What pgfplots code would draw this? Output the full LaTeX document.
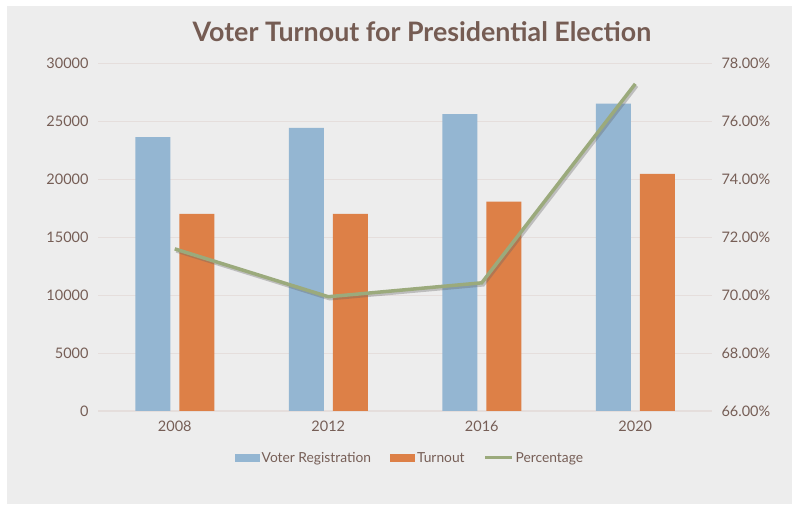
\documentclass[border=0pt]{standalone}
\usepackage{pgfplots}
\pgfplotsset{compat=1.18}
\usepackage{fontspec}
\setmainfont{Lato}
\definecolor{bg}{RGB}{237,237,237}
\definecolor{txt}{RGB}{118,94,86}
\definecolor{titlec}{RGB}{117,92,83}
\definecolor{regblue}{RGB}{148,182,210}
\definecolor{turnorange}{RGB}{221,128,71}
\definecolor{pctgreen}{RGB}{155,170,124}
\definecolor{gridc}{RGB}{229,222,220}
\begin{document}
\begin{tikzpicture}[x=1bp,y=1bp]
\path[use as bounding box, fill=white] (0,0) rectangle (795,505);
\fill[bg] (7,1) rectangle (792,499);
\node[font=\bfseries\fontsize{26.8bp}{30bp}\selectfont, text=titlec] at (422,473) {Voter Turnout for Presidential Election};
\begin{axis}[
  at={(98bp,94bp)}, anchor=south west,
  scale only axis, width=614bp, height=348bp,
  xmin=-0.5, xmax=3.5, ymin=0, ymax=30000,
  xtick={0,1,2,3}, xticklabels={2008,2012,2016,2020},
  ytick={0,5000,...,30000},
  scaled y ticks=false,
  /pgf/number format/1000 sep={},
  /pgf/number format/assume math mode=true,
  axis x line*=bottom, axis y line*=left,
  y axis line style={draw=none},
  x axis line style={draw=gridc, line width=1bp},
  major tick length=0pt,
  ymajorgrids, grid style={gridc, line width=0.8bp},
  ticklabel style={font=\fontsize{14.5bp}{16bp}\selectfont, text=txt},
  yticklabel style={xshift=-6bp},
  xticklabel style={yshift=-6bp},
  ybar=9bp, bar width=35bp,
  legend columns=3,
  legend style={at={(axis description cs:0.508,-0.135)}, anchor=center, draw=none, fill=none,
    font=\fontsize{13.8bp}{15bp}\selectfont, text=txt,
    /tikz/every even column/.append style={column sep=17bp},
    nodes={inner sep=2bp}},
]
\addplot[fill=regblue, draw=none, legend image code/.code={\fill[regblue] (0bp,-4bp) rectangle (25bp,4bp);}]
  coordinates {(0,23600) (1,24400) (2,25600) (3,26500)};
\addlegendentry{Voter Registration}
\addplot[fill=turnorange, draw=none, legend image code/.code={\fill[turnorange] (0bp,-4bp) rectangle (25bp,4bp);}]
  coordinates {(0,17000) (1,17000) (2,18050) (3,20450)};
\addlegendentry{Turnout}
\addlegendimage{legend image code/.code={\draw[pctgreen, line width=3bp] (0bp,0bp) -- (27bp,0bp);}}
\addlegendentry{Percentage}
\end{axis}
\begin{axis}[
  at={(98bp,94bp)}, anchor=south west,
  scale only axis, width=614bp, height=348bp,
  xmin=-0.5, xmax=3.5, ymin=66, ymax=78,
  ytick={66,68,...,78},
  axis y line*=right, axis x line=none,
  y axis line style={draw=none},
  major tick length=0pt,
  /pgf/number format/assume math mode=true,
  yticklabel={\pgfmathprintnumber[fixed,fixed zerofill,precision=2]{\tick}\%},
  ticklabel style={font=\fontsize{14.5bp}{16bp}\selectfont, text=txt},
  yticklabel style={xshift=6bp},
]
\addplot[black!60, opacity=0.35, line width=3.5bp, xshift=1.5bp, yshift=-2bp]
  coordinates {(0,71.59) (1,69.94) (2,70.42) (3,77.28)};
\addplot[pctgreen, line width=3.5bp]
  coordinates {(0,71.59) (1,69.94) (2,70.42) (3,77.28)};
\end{axis}
\end{tikzpicture}
\end{document}
